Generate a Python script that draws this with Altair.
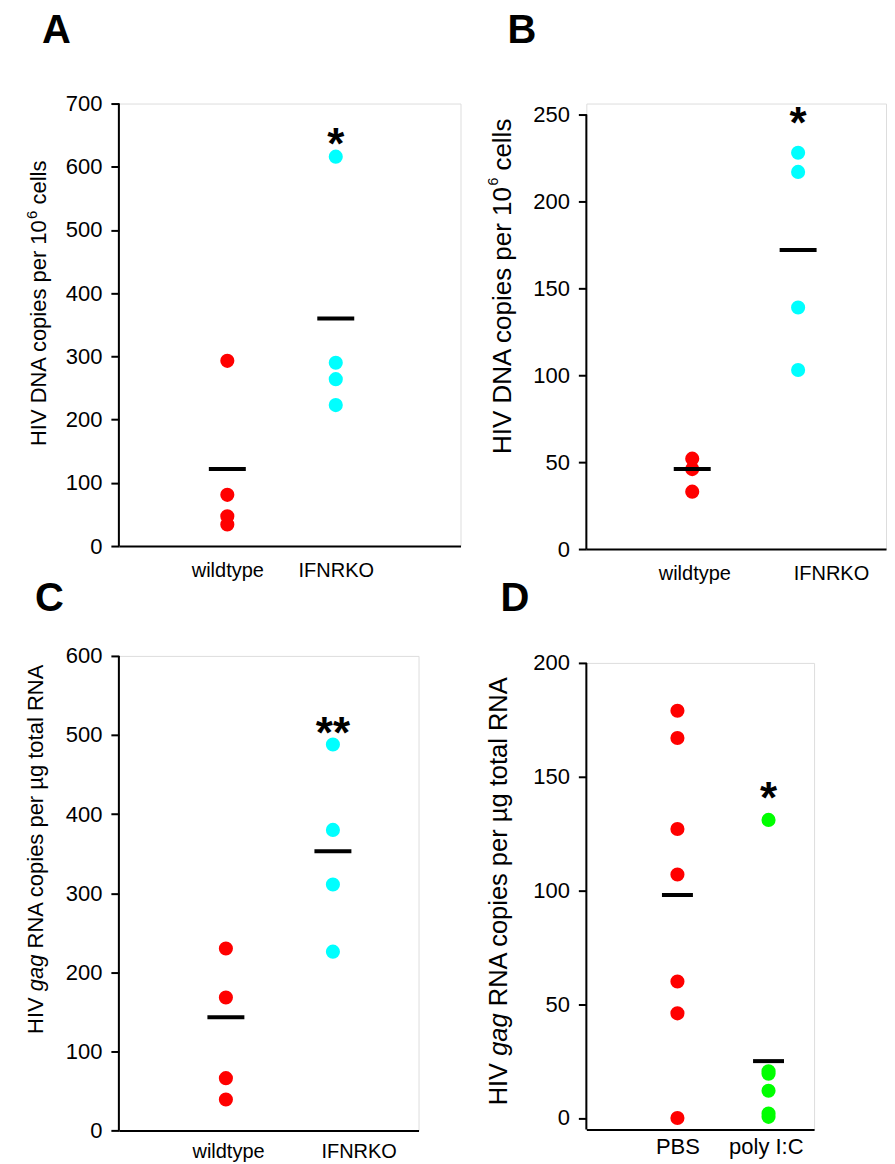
import altair as alt
import pandas as pd

FONT = "Liberation Sans"

# ---------------- data ----------------
A_cats = ["wildtype", "IFNRKO"]
A_vals = [[293, 81, 47, 34], [616, 290, 264, 223]]
A_means = [122, 360]
A_stars = ["", "*"]
A_star_y = [0, 651]
A_ticks = [0, 100, 200, 300, 400, 500, 600, 700]

B_cats = ["wildtype", "IFNRKO"]
B_vals = [[52, 46, 33], [228, 217, 139, 103]]
B_means = [46, 172]
B_stars = ["", "*"]
B_star_y = [0, 251]
B_ticks = [0, 50, 100, 150, 200, 250]

C_cats = ["wildtype", "IFNRKO"]
C_vals = [[230, 168, 66, 39], [488, 380, 311, 226]]
C_means = [143, 353]
C_stars = ["", "**"]
C_star_y = [0, 515]
C_ticks = [0, 100, 200, 300, 400, 500, 600]

D_cats = ["PBS", "poly I:C"]
D_vals = [[179, 167, 127, 107, 60, 46, 0], [131, 20.5, 19.5, 12, 2, 0.5]]
D_means = [98, 25]
D_stars = ["", "*"]
D_star_y = [0, 145]
D_ticks = [0, 50, 100, 150, 200]

TITLE_DNA = ["HIV DNA copies per 10", "6", "cells"]
TITLE_RNA = ["HIV", "gag", "RNA copies per \u00b5g total RNA"]
LETTERS = ["A", "B", "C", "D"]

COL_WT = "#ff0000"
COL_KO = "#00ffff"
COL_PIC = "#00ff00"

# Arial / Liberation Sans advance widths (per 1000 em)
W = {" ": 278, "H": 722, "I": 278, "V": 667, "D": 722, "N": 722, "A": 667, "R": 722,
     "c": 500, "o": 556, "p": 556, "i": 222, "e": 556, "s": 500, "r": 333, "l": 222,
     "t": 278, "a": 556, "g": 556, "\u00b5": 576, "0": 556, "1": 556, "6": 556}


def tw(s, fs):
    return sum(W[c] for c in s) * fs / 1000.0


def one_text(txt, x, y, **kw):
    return alt.Chart(pd.DataFrame({"t": [txt]})).mark_text(font=FONT, **kw).encode(
        text="t:N", x=alt.value(x), y=alt.value(y)
    )


def panel(cats, vals, means, stars, star_y, colors, ydom, axis_top, yticks, w, h, xmax,
          label_pos, xlab_fs, xlab_pad, tick_len, title_layers, letters):
    rows = []
    for i, (c, vs) in enumerate(zip(cats, vals)):
        for v in vs:
            rows.append({"pos": i + 1, "val": v, "col": colors[i]})
    pts = pd.DataFrame(rows)
    mdf = pd.DataFrame({"pos": [1, 2], "val": means})
    sdf = pd.DataFrame({"pos": [1, 2], "val": star_y, "s": stars})
    sdf = sdf[sdf["s"] != ""]
    adf = pd.DataFrame({"pos": [0], "val": [ydom[0]], "val2": [axis_top]})

    expr = "datum.value < 1.5 ? '%s' : '%s'" % (cats[0], cats[1])
    xax = alt.Axis(values=label_pos, labelExpr=expr, ticks=False, grid=False, title=None,
                   domainColor="black", domainWidth=2, labelFontSize=xlab_fs, labelFont=FONT,
                   labelColor="black", labelPadding=xlab_pad, labelFlush=False)
    yax = alt.Axis(values=yticks, format="d", grid=False, title=None, domain=False,
                   tickColor="black", tickWidth=2, tickSize=8,
                   labelFontSize=22, labelFont=FONT, labelColor="black", labelPadding=9)
    X = alt.X("pos:Q", scale=alt.Scale(domain=[0, xmax], nice=False, zero=False), axis=xax)
    Y = alt.Y("val:Q", scale=alt.Scale(domain=ydom, nice=False, zero=False), axis=yax)

    yline = alt.Chart(adf).mark_rule(color="black", strokeWidth=2).encode(
        x=X, y=Y, y2="val2:Q")
    p = alt.Chart(pts).mark_circle(size=200, opacity=1).encode(
        x=X, y=Y, color=alt.Color("col:N", scale=None))
    m = alt.Chart(mdf).mark_tick(orient="horizontal", size=tick_len, thickness=4,
                                 color="black", opacity=1).encode(x=X, y=Y)
    s = alt.Chart(sdf).mark_text(font=FONT, fontSize=44, fontWeight="bold", dy=12,
                                 color="black").encode(x=X, y=Y, text="s:N")
    layers = [yline, p, m, s] + title_layers + letters
    return alt.layer(*layers).properties(width=w, height=h)


def dna_title(x, yc, fs, fs_sup, raise_px):
    w1 = tw(TITLE_DNA[0], fs)
    w2 = tw(TITLE_DNA[1], fs_sup)
    w3 = tw(" " + TITLE_DNA[2], fs)
    y0 = yc + (w1 + w2 + w3) / 2
    kw = dict(angle=270, align="left", baseline="middle", color="black")
    return [
        one_text(TITLE_DNA[0], x, y0, fontSize=fs, **kw),
        one_text(TITLE_DNA[1], x - raise_px, y0 - w1, fontSize=fs_sup, **kw),
        one_text(TITLE_DNA[2], x, y0 - w1 - w2 - tw(" ", fs), fontSize=fs, **kw),
    ]


def rna_title(x, yc, fs):
    total = tw("HIV gag ", fs) + tw(TITLE_RNA[2], fs)
    y0 = yc + total / 2
    y1 = y0 - tw("HIV ", fs)
    y2 = y1 - tw("gag ", fs)
    kw = dict(fontSize=fs, angle=270, align="left", baseline="middle", color="black")
    return [
        one_text(TITLE_RNA[0], x, y0, **kw),
        one_text(TITLE_RNA[1], x, y1, fontStyle="italic", **kw),
        one_text(TITLE_RNA[2], x, y2, **kw),
    ]


def letter(t, x, y):
    return one_text(t, x, y, fontSize=40, fontWeight="bold", align="left",
                    baseline="alphabetic", color="black")


B_px = 435 / 250.0  # px per unit in panel B
B_top = 250 + 11 / B_px

# title x positions chosen so that the left edge of every column's title is equal
A = panel(A_cats, A_vals, A_means, A_stars, A_star_y, [COL_WT, COL_KO], [0, 700], 700,
          A_ticks, 342, 443, 3.15, [1, 2], 20, 14, 37, dna_title(-79.5, 200, 22, 15, 7.0),
          [letter(LETTERS[0], -77, -61), letter(LETTERS[2], -84, 508)])
B = panel(B_cats, B_vals, B_means, B_stars, B_star_y, [COL_WT, COL_KO], [0, B_top], 250,
          B_ticks, 300, 446, 2.83, [1.02, 2.31], 20, 14, 37, dna_title(-83, 183, 26, 14, 9.0),
          [letter(LETTERS[1], -79, -61), letter(LETTERS[3], -86, 508)])
C = panel(C_cats, C_vals, C_means, C_stars, C_star_y, [COL_WT, COL_KO], [0, 600], 600,
          C_ticks, 300, 475, 2.8, [1.02, 2.24], 20, 11, 37, rna_title(-83, 193, 22), [])
D = panel(D_cats, D_vals, D_means, D_stars, D_star_y, [COL_WT, COL_PIC], [-5, 200], 200,
          D_ticks, 228, 467, 2.5, [1, 1.97], 22, 7, 31, rna_title(-87, 228, 25.5), [])

chart = alt.hconcat(
    alt.vconcat(A, C, spacing=24),
    alt.vconcat(B, D, spacing=31),
    spacing=25,
).properties(
    padding={"left": 16, "top": 1, "right": 0, "bottom": 0}
).configure_view(strokeWidth=0).configure(background="white")

chart.save("out.html", embed_options={"renderer": "svg", "actions": False})
